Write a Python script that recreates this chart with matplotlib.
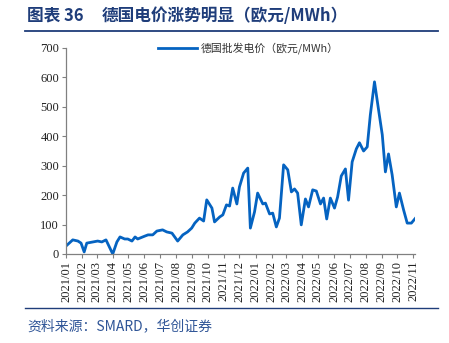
import matplotlib
matplotlib.use("Agg")
import matplotlib.pyplot as plt
import numpy as np
import pandas as pd

plt.rcParams['font.family'] = ['Noto Sans CJK SC', 'DejaVu Sans']

# 德国批发电价（欧元/MWh）
dates = [
    "2021-01-01", "2021-01-14", "2021-01-24", "2021-01-30", "2021-02-05", "2021-02-10",
    "2021-02-22", "2021-03-03", "2021-03-11", "2021-03-19", "2021-04-01", "2021-04-09",
    "2021-04-15", "2021-04-24", "2021-04-30", "2021-05-08", "2021-05-14", "2021-05-19",
    "2021-06-02", "2021-06-08", "2021-06-17", "2021-06-25", "2021-07-06", "2021-07-14",
    "2021-07-24", "2021-08-04", "2021-08-14", "2021-08-23", "2021-08-31", "2021-09-06",
    "2021-09-15", "2021-09-23", "2021-09-29", "2021-10-09", "2021-10-14", "2021-10-24",
    "2021-10-30", "2021-11-06", "2021-11-12", "2021-11-18", "2021-11-26", "2021-12-01",
    "2021-12-09", "2021-12-17", "2021-12-22", "2021-12-30", "2022-01-05", "2022-01-15",
    "2022-01-20", "2022-01-28", "2022-02-03", "2022-02-10", "2022-02-16", "2022-02-24",
    "2022-03-04", "2022-03-11", "2022-03-17", "2022-03-23", "2022-03-30", "2022-04-07",
    "2022-04-13", "2022-04-21", "2022-04-28", "2022-05-06", "2022-05-12", "2022-05-18",
    "2022-05-25", "2022-06-02", "2022-06-08", "2022-06-15", "2022-06-23", "2022-06-29",
    "2022-07-06", "2022-07-14", "2022-07-20", "2022-07-28", "2022-08-04", "2022-08-10",
    "2022-08-18", "2022-08-25", "2022-09-02", "2022-09-08", "2022-09-14", "2022-09-21",
    "2022-09-29", "2022-10-05", "2022-10-13", "2022-10-20", "2022-10-28", "2022-11-05",
]
price = [
    27, 48, 44, 37, 7, 37,
    41, 44, 41, 48, 0, 41,
    58, 51, 51, 44, 58, 51,
    61, 65, 65, 78, 82, 75,
    71, 44, 65, 75, 88, 105,
    122, 112, 184, 156, 109, 126,
    133, 167, 163, 224, 170, 228,
    275, 292, 88, 143, 207, 170,
    173, 136, 139, 92, 122, 303,
    286, 211, 221, 207, 99, 187,
    160, 218, 214, 170, 190, 119,
    190, 156, 194, 265, 289, 183,
    313, 357, 378, 350, 364, 473,
    585, 500, 405, 279, 340, 269,
    160, 207, 150, 105, 105, 122,
]
month_ticks = pd.date_range("2021-01-01", "2022-11-01", freq="MS")
tick_labels = [d.strftime("%Y/%m") for d in month_ticks]

navy = "#1F3D7A"
blue = "#0563C1"
gray = "#808080"

fig = plt.figure(figsize=(4.49, 3.43), dpi=100)
ax = fig.add_axes([66/449, 1 - 254/343, (415 - 66)/449, (254 - 48)/343])

ax.plot(pd.to_datetime(dates), price, color=blue, lw=2.0,
        label="德国批发电价（欧元/MWh）", solid_joinstyle="round")

ax.set_ylim(0, 700)
ax.set_yticks(np.arange(0, 701, 100))
ax.set_xlim(pd.Timestamp("2021-01-01"), pd.Timestamp("2022-11-04"))
ax.set_xticks(month_ticks)
ax.set_xticklabels(tick_labels, rotation=90)

for s in ["top", "right"]:
    ax.spines[s].set_visible(False)
for s in ["left", "bottom"]:
    ax.spines[s].set_color(gray)
    ax.spines[s].set_linewidth(0.9)
ax.tick_params(axis="both", colors=gray, length=3, width=0.8, labelcolor="#222222",
               labelsize=9, pad=2)
for lab in ax.get_xticklabels() + ax.get_yticklabels():
    lab.set_fontfamily("Liberation Serif")

leg = ax.legend(loc="upper left", bbox_to_anchor=(0.235, 1.075), frameon=False,
                fontsize=7.8, handlelength=3.6, handletextpad=0.35)
for t in leg.get_texts():
    t.set_color("#333333")

# header and footer
fig.text(27/449, 1 - 16/343, "图表 36", color=navy, fontsize=12, fontweight="bold",
         va="center", ha="left")
fig.text(102/449, 1 - 16/343, "德国电价涨势明显（欧元/MWh）", color=navy, fontsize=12,
         fontweight="bold", va="center", ha="left")
fig.add_artist(plt.Line2D([25/449, 438/449], [1 - 31/343, 1 - 31/343], color=navy, lw=1.3))
fig.add_artist(plt.Line2D([25/449, 438/449], [1 - 308/343, 1 - 308/343], color=navy, lw=1.0))
fig.text(27/449, 1 - 326/343, "资料来源：SMARD，华创证券", color="#2F5597", fontsize=10,
         va="center", ha="left", style="italic")

fig.savefig("out.png", dpi=100)
